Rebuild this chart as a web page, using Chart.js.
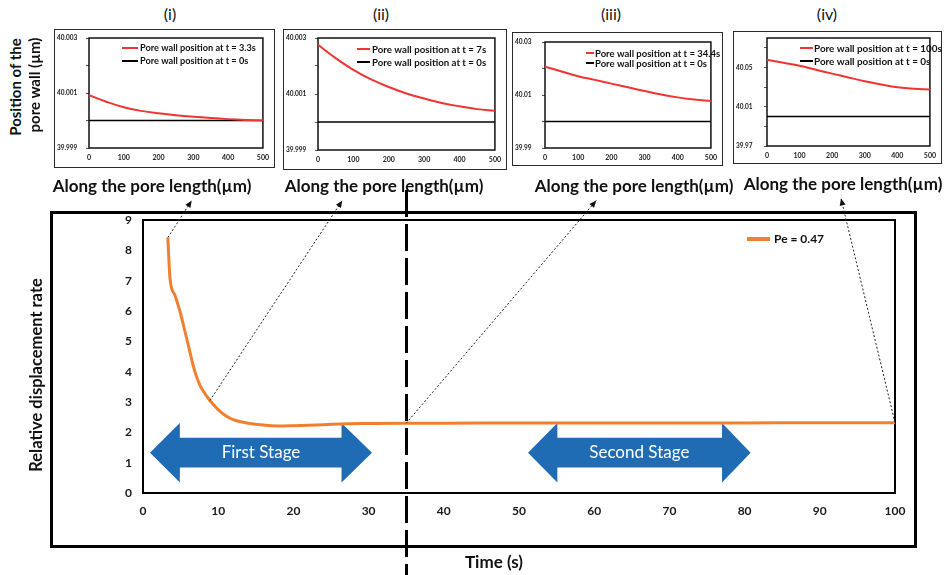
<!DOCTYPE html>
<html><head><meta charset="utf-8">
<script src="https://cdn.jsdelivr.net/npm/chart.js@4.4.1/dist/chart.umd.min.js"></script>
<style>
body{margin:0;background:#fff;}
#page{position:relative;width:947px;height:575px;overflow:hidden;background:#fff;font-family:Lato,sans-serif;color:#111;}
.abs{position:absolute;}
.rot{position:absolute;transform:translate(-50%,-50%) rotate(-90deg);white-space:nowrap;font-weight:bold;font-family:Lato;}
.ptitle{position:absolute;top:4px;font:16px Lato;transform:translateX(-50%);white-space:nowrap;}
.caption{position:absolute;font:bold 17px Lato;white-space:nowrap;transform:translate(-50%,-50%);}
.box{position:absolute;box-sizing:border-box;border:1.5px solid #2a2a2a;}
canvas{position:absolute;}
</style></head>
<body><div id="page">
<div class="box" id="mainBox" style="left:50px;top:211px;width:867px;height:337px;border:3px solid #000;"></div>
<canvas id="main" width="947" height="385" style="left:0;top:190px;"></canvas>
<div class="rot" style="left:36px;top:375px;font-size:16.5px;">Relative displacement rate</div>
<div class="abs" style="left:494px;top:561px;transform:translate(-50%,-50%);font:bold 17px Lato;white-space:nowrap;">Time (s)</div>
<div class="rot" style="left:15px;top:87px;font-size:15px;">Position of the</div>
<div class="rot" style="left:34px;top:85px;font-size:15px;">pore wall (µm)</div>
<div id="insets"></div>
<canvas id="overlay" width="947" height="575" style="left:0;top:0;pointer-events:none;"></canvas>
</div>
<script>
// ---------- data ----------
const mainTime = [3.3, 3.6, 4.25, 4.9, 5.9, 6.9, 7.4, 7.9, 8.9, 10, 11, 12, 13, 14, 16, 18, 20, 24, 27, 30, 35, 40, 50, 60, 70, 80, 90, 100];
const mainRate = [8.42, 7.05, 6.52, 6.0, 5.0, 4.0, 3.65, 3.4, 3.05, 2.75, 2.55, 2.42, 2.35, 2.3, 2.24, 2.21, 2.22, 2.25, 2.28, 2.29, 2.3, 2.3, 2.31, 2.31, 2.31, 2.31, 2.32, 2.32];
const mainLabel = 'Pe = 0.47';
const stageBoundary = 35;
const stageNames = ['First Stage', 'Second Stage'];
const connectorTimes = [3.3, 8.9, 35, 100];

const poreLength = [0, 50, 100, 150, 200, 250, 300, 350, 400, 450, 500];
const wallT0 = [40, 40, 40, 40, 40, 40, 40, 40, 40, 40, 40];
const wallT3_3 = [40.00092, 40.00068, 40.00048, 40.00035, 40.00026, 40.00019, 40.00014, 40.00009, 40.00005, 40.00002, 40.0];
const wallT7 = [40.00276, 40.00228, 40.00186, 40.00152, 40.00125, 40.00102, 40.00084, 40.00068, 40.00056, 40.00046, 40.0004];
const wallT34_4 = [40.0207, 40.0189, 40.0171, 40.0157, 40.0143, 40.0129, 40.0115, 40.0102, 40.0091, 40.0083, 40.0078];
const wallT100 = [40.0578, 40.0548, 40.0517, 40.0477, 40.0437, 40.0398, 40.036, 40.0327, 40.0298, 40.0282, 40.0275];
const insetNames = ['(i)', '(ii)', '(iii)', '(iv)'];
const insetTimeLabels = ['3.3s', '7s', '34.4s', '100s'];
const insetSeries = [wallT3_3, wallT7, wallT34_4, wallT100];
const insetTicks = [
  [39.999, 40.000, 40.001, 40.002, 40.003],
  [39.999, 40.000, 40.001, 40.002, 40.003],
  [39.99, 40.00, 40.01, 40.02, 40.03],
  [39.97, 39.99, 40.01, 40.03, 40.05, 40.07]
];
const insetLabelled = [
  [39.999, 40.001, 40.003],
  [39.999, 40.001, 40.003],
  [39.99, 40.01, 40.03],
  [39.97, 40.01, 40.05]
];
const insetRange = [[39.999, 40.003], [39.999, 40.003], [39.99, 40.03], [39.97, 40.08]];
const insetDecimals = [3, 3, 2, 2];
const xAxisCaption = 'Along the pore length(µm)';

// ---------- layout / style (not data) ----------
const insetLayout = [
  {box:[54,29,275,168], plot:[89,38,266,148], title:170, cap:[152,185], leg:{left:33,sample:16,gap:2,top:10,row:13,size:9.2}},
  {box:[283,29,507,170], plot:[318,38,496,150], title:381, cap:[384,185], leg:{left:39,sample:13,gap:2,top:11,row:13,size:9.7}},
  {box:[512,32,723,166], plot:[545,42,717,148], title:611, cap:[634,185], leg:{left:41,sample:8,gap:1,top:11,row:10,size:9.5}},
  {box:[733,31,942,164], plot:[767,38,937,146], title:827, cap:[843,183], leg:{left:33,sample:13,gap:1,top:10,row:13,size:9.9}}
];
const connectorFrac = [0.70, 0.29, 0.31, 0.49];
const stageArrows = [
  {x0:0.93, x1:30.45, s0:4.9, s1:26.4},
  {x0:51.2, x1:80.8, s0:55.1, s1:77.0}
];
const arrowY = {top:2.31, bottom:0.35, shaftTop:1.82, shaftBottom:0.84};

// ---------- plugins ----------
const plotBorder = {
  id:'plotBorder',
  beforeDatasetsDraw(chart, args, o){
    const {ctx, chartArea:a} = chart;
    ctx.save(); ctx.strokeStyle = o.color || '#000'; ctx.lineWidth = o.width || 1.5;
    ctx.strokeRect(a.left, a.top, a.right-a.left, a.bottom-a.top);
    ctx.restore();
  }
};
const lineLegend = {
  id:'lineLegend',
  afterDatasetsDraw(chart, args, o){
    if(!o || !o.show) return;
    const {ctx, chartArea:a} = chart;
    ctx.save(); ctx.font = o.font; ctx.textBaseline = 'middle'; ctx.textAlign = 'left';
    const x0 = a.left + o.left;
    chart.data.datasets.forEach((d,i)=>{
      const y = a.top + o.top + i*o.row;
      ctx.strokeStyle = d.borderColor; ctx.lineWidth = o.lineWidth || d.borderWidth;
      ctx.beginPath(); ctx.moveTo(x0, y); ctx.lineTo(x0+o.sample, y); ctx.stroke();
      ctx.fillStyle = o.color || '#111';
      ctx.fillText(d.label, x0+o.sample+o.gap, y+0.5);
    });
    ctx.restore();
  }
};
const stagePlugin = {
  id:'stages',
  beforeDatasetsDraw(chart){
    const {ctx} = chart, xs = chart.scales.x, ys = chart.scales.y;
    ctx.save();
    stageArrows.forEach((s,i)=>{
      const X0 = xs.getPixelForValue(s.x0), X1 = xs.getPixelForValue(s.x1);
      const S0 = xs.getPixelForValue(s.s0), S1 = xs.getPixelForValue(s.s1);
      const T = ys.getPixelForValue(arrowY.top), B = ys.getPixelForValue(arrowY.bottom);
      const ST = ys.getPixelForValue(arrowY.shaftTop), SB = ys.getPixelForValue(arrowY.shaftBottom);
      const M = (T+B)/2;
      ctx.beginPath();
      ctx.moveTo(X0, M); ctx.lineTo(S0, T); ctx.lineTo(S0, ST); ctx.lineTo(S1, ST); ctx.lineTo(S1, T);
      ctx.lineTo(X1, M); ctx.lineTo(S1, B); ctx.lineTo(S1, SB); ctx.lineTo(S0, SB); ctx.lineTo(S0, B);
      ctx.closePath();
      ctx.fillStyle = '#1f6cb5'; ctx.fill();
      ctx.fillStyle = '#fff'; ctx.font = '17px Lato'; ctx.textAlign = 'center'; ctx.textBaseline = 'middle';
      ctx.fillText(stageNames[i], (X0+X1)/2, M);
    });
    ctx.restore();
  }
};

// ---------- main chart ----------
const tickFont = {family:'Lato', weight:'bold', size:12};
const mainChart = new Chart(document.getElementById('main'), {
  type:'line',
  data:{datasets:[{
    label: mainLabel,
    data: mainTime.map((t,i)=>({x:t, y:mainRate[i]})),
    borderColor:'#f08030', borderWidth:3, pointRadius:0, cubicInterpolationMode:'monotone', fill:false
  }]},
  options:{
    responsive:false, animation:false, events:[],
    layout:{padding:{left:0, top:30, right:52, bottom:0}},
    plugins:{legend:{display:false}, tooltip:{enabled:false},
      plotBorder:{color:'#000', width:2},
      lineLegend:{show:true, font:'bold 12px Lato', left:604, sample:23, gap:4, top:19, row:16, lineWidth:4}},
    scales:{
      x:{type:'linear', min:0, max:100, ticks:{stepSize:10, padding:11, font:tickFont, color:'#1a1a1a', maxRotation:0},
         grid:{display:false, drawTicks:false}, border:{display:false}, afterFit(s){ s.height = 82; }},
      y:{type:'linear', min:0, max:9, ticks:{stepSize:1, padding:11, font:tickFont, color:'#1a1a1a'},
         grid:{display:false, drawTicks:false}, border:{display:false}, afterFit(s){ s.width = 143; }}
    }
  },
  plugins:[plotBorder, stagePlugin, lineLegend]
});

// ---------- insets ----------
const insetHost = document.getElementById('insets');
const page = document.getElementById('page');
const captions = [];
insetLayout.forEach((L,i)=>{
  const [bl,bt,br,bb] = L.box, [pl,pt,pr,pb] = L.plot;
  const box = document.createElement('div'); box.className = 'box';
  Object.assign(box.style, {left:bl+'px', top:bt+'px', width:(br-bl)+'px', height:(bb-bt)+'px'});
  insetHost.appendChild(box);
  const t = document.createElement('div'); t.className = 'ptitle'; t.textContent = insetNames[i];
  t.style.left = L.title+'px'; insetHost.appendChild(t);
  const c = document.createElement('div'); c.className = 'caption'; c.textContent = xAxisCaption;
  c.style.left = L.cap[0]+'px'; c.style.top = L.cap[1]+'px'; insetHost.appendChild(c); captions.push(c);
  const cv = document.createElement('canvas'); cv.width = br-bl; cv.height = bb-bt;
  cv.style.left = bl+'px'; cv.style.top = bt+'px'; insetHost.appendChild(cv);
  const ticksV = insetTicks[i], lab = insetLabelled[i], dec = insetDecimals[i];
  new Chart(cv, {
    type:'line',
    data:{datasets:[
      {label:'Pore wall position at t = '+insetTimeLabels[i], data:poreLength.map((x,k)=>({x, y:insetSeries[i][k]})),
       borderColor:'#f03434', borderWidth:2, pointRadius:0, tension:0.4, order:0},
      {label:'Pore wall position at t = 0s', data:poreLength.map((x,k)=>({x, y:wallT0[k]})),
       borderColor:'#000', borderWidth:1.5, pointRadius:0, order:1}
    ]},
    options:{
      responsive:false, animation:false, events:[],
      layout:{padding:{left:3, top:pt-bt, right:br-pr, bottom:0}},
      plugins:{legend:{display:false}, tooltip:{enabled:false},
        plotBorder:{color:'#111', width:1.5},
        lineLegend:{show:true, font:'bold '+L.leg.size+'px Lato', left:L.leg.left, sample:L.leg.sample, gap:L.leg.gap, top:L.leg.top, row:L.leg.row, lineWidth:2}},
      scales:{
        x:{type:'linear', min:0, max:500, ticks:{stepSize:100, padding:6, font:{family:'Lato', weight:'bold', size:7}, color:'#1a1a1a', maxRotation:0},
           grid:{display:false, drawTicks:false}, border:{display:false}, afterFit(s){ s.height = bb-pb; }},
        y:{type:'linear', min:insetRange[i][0], max:insetRange[i][1],
           afterBuildTicks(s){ s.ticks = ticksV.map(v=>({value:v})); },
           ticks:{crossAlign:'far', padding:2, font:{family:'Lato', weight:'bold', size:6.5}, color:'#1a1a1a',
             callback(v){ return lab.some(l=>Math.abs(l-v)<1e-9) ? Number(v).toFixed(dec) : ''; }},
           grid:{display:true, drawOnChartArea:false, drawTicks:true, tickLength:3, color:'#555', lineWidth:1},
           border:{display:false}, afterFit(s){ s.width = pl-bl-3; }}
      }
    },
    plugins:[plotBorder, lineLegend]
  });
});

// ---------- overlay: stage boundary + connectors ----------
(function(){
  const cv = document.getElementById('overlay'), ctx = cv.getContext('2d');
  const mc = document.getElementById('main');
  const ox = mc.offsetLeft, oy = mc.offsetTop;
  const xs = mainChart.scales.x, ys = mainChart.scales.y;
  const bx = Math.round(ox + xs.getPixelForValue(stageBoundary)) + 0.5;
  ctx.save(); ctx.strokeStyle = '#000'; ctx.lineWidth = 3; ctx.setLineDash([27,7]); ctx.lineDashOffset = 29;
  ctx.beginPath(); ctx.moveTo(bx, 185); ctx.lineTo(bx, 575); ctx.stroke(); ctx.restore();
  const pr = page.getBoundingClientRect();
  connectorTimes.forEach((t,i)=>{
    const k = mainTime.indexOf(t);
    const sx = ox + xs.getPixelForValue(t), sy = oy + ys.getPixelForValue(mainRate[k]);
    const r = captions[i].getBoundingClientRect();
    const ex = r.left - pr.left + connectorFrac[i]*r.width, ey = r.bottom - pr.top + 5;
    ctx.save(); ctx.strokeStyle = '#222'; ctx.lineWidth = 1; ctx.setLineDash([2,2]);
    ctx.beginPath(); ctx.moveTo(sx, sy); ctx.lineTo(ex, ey); ctx.stroke();
    const ang = Math.atan2(ey-sy, ex-sx), h = 7, w = 3;
    ctx.setLineDash([]); ctx.fillStyle = '#111';
    ctx.beginPath(); ctx.moveTo(ex, ey);
    ctx.lineTo(ex - h*Math.cos(ang) + w*Math.sin(ang), ey - h*Math.sin(ang) - w*Math.cos(ang));
    ctx.lineTo(ex - h*Math.cos(ang) - w*Math.sin(ang), ey - h*Math.sin(ang) + w*Math.cos(ang));
    ctx.closePath(); ctx.fill(); ctx.restore();
  });
})();
</script>
</body></html>
